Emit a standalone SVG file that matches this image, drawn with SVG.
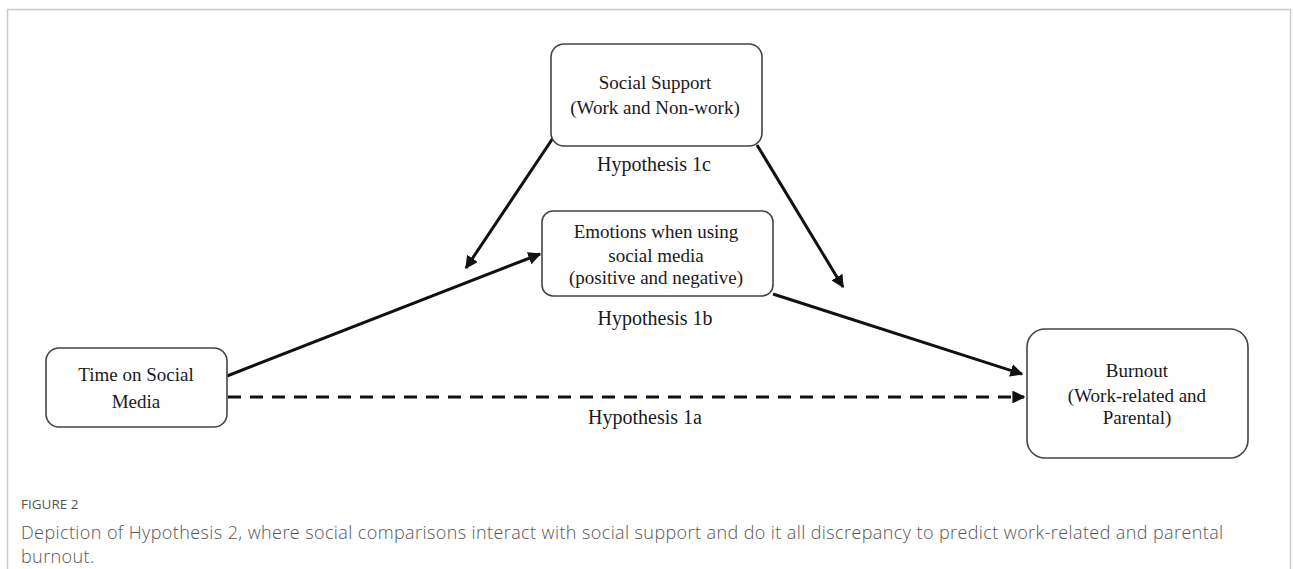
<svg xmlns="http://www.w3.org/2000/svg" width="1293" height="569" viewBox="0 0 1293 569">
  <style>
    .box { fill: #ffffff; stroke: #444444; stroke-width: 1.6; }
    .lbl { font-family: "Liberation Serif", "Times New Roman", serif; font-size: 19px; fill: #1a1a1a; text-anchor: middle; }
    .hyp { font-family: "Liberation Serif", "Times New Roman", serif; font-size: 20px; fill: #1a1a1a; text-anchor: middle; }
    .edge { stroke: #111111; stroke-width: 3; fill: none; }
    .dash { stroke-dasharray: 13 9; }
    .cap-head { font-family: "Open Sans", "Noto Sans", sans-serif; font-size: 13.5px; fill: #555555; }
    .cap { font-family: "Open Sans", "Noto Sans", sans-serif; font-size: 18px; letter-spacing: 0.4px; fill: #555555; font-weight: 300; }
  </style>
  <defs>
    <marker id="arrow" viewBox="0 0 10 10" refX="9" refY="5" markerWidth="4.3" markerHeight="4.3" orient="auto" markerUnits="strokeWidth">
      <path d="M0,0 L10,5 L0,10 Z" fill="#111111"/>
    </marker>
  </defs>

  <rect x="0" y="0" width="1293" height="569" fill="#ffffff"/>
  <!-- figure frame -->
  <path d="M7.5,569 V9.5 H1290.5 V569" fill="none" stroke="#cccccc" stroke-width="1.5"/>

  <g id="connectors">
    <line class="edge" x1="553" y1="138" x2="466" y2="268" marker-end="url(#arrow)"/>
    <line class="edge" x1="757" y1="145" x2="843" y2="287" marker-end="url(#arrow)"/>
    <line class="edge" x1="227" y1="376" x2="540" y2="254" marker-end="url(#arrow)"/>
    <line class="edge" x1="773" y1="294" x2="1022" y2="374" marker-end="url(#arrow)"/>
    <line class="edge dash" x1="228" y1="397" x2="1024" y2="397" marker-end="url(#arrow)"/>
  </g>

  <g id="node-support">
    <rect class="box" x="551" y="44" width="211" height="102" rx="13"/>
    <text class="lbl" x="655" y="89">Social  Support</text>
    <text class="lbl" x="655" y="114">(Work and Non-work)</text>
  </g>
  <g id="label-h1c">
    <text class="hyp" x="654" y="171">Hypothesis 1c</text>
  </g>

  <g id="node-emotions">
    <rect class="box" x="542" y="211" width="231" height="85" rx="11"/>
    <text class="lbl" x="656" y="238">Emotions  when using</text>
    <text class="lbl" x="656" y="262">social  media</text>
    <text class="lbl" x="656" y="284">(positive  and negative)</text>
  </g>
  <g id="label-h1b">
    <text class="hyp" x="655" y="325">Hypothesis 1b</text>
  </g>

  <g id="node-time">
    <rect class="box" x="46" y="348" width="181" height="79" rx="13"/>
    <text class="lbl" x="136" y="381">Time  on Social</text>
    <text class="lbl" x="136" y="408">Media</text>
  </g>
  <g id="label-h1a">
    <text class="hyp" x="645" y="424">Hypothesis 1a</text>
  </g>

  <g id="node-burnout">
    <rect class="box" x="1027" y="329" width="221" height="129" rx="18"/>
    <text class="lbl" x="1137" y="377">Burnout</text>
    <text class="lbl" x="1137" y="402">(Work-related  and</text>
    <text class="lbl" x="1137" y="424">Parental)</text>
  </g>

  <g id="caption">
    <text class="cap-head" x="21" y="509">FIGURE 2</text>
    <text class="cap" x="21" y="539">Depiction of Hypothesis 2, where social comparisons interact with social support and do it all discrepancy to predict work-related and parental</text>
    <text class="cap" x="21" y="563">burnout.</text>
  </g>
</svg>
